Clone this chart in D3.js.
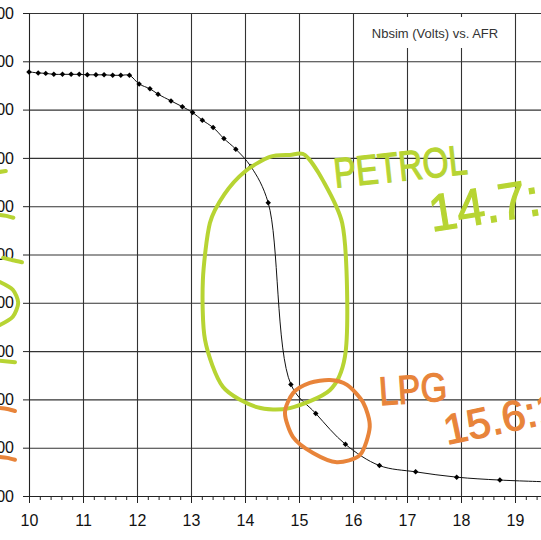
<!DOCTYPE html>
<html>
<head>
  <meta charset="utf-8">
  <style>
    body { margin: 0; background: #fff; }
    svg { display: block; font-family: "Liberation Sans", Arial, sans-serif; }
    .grid line { stroke: #333; stroke-width: 1.1; }
    .grid path { display: none; }
    .axis path, .axis line { stroke: #222; }
    .axis text { fill: #111; font-size: 16px; }
    .curve { fill: none; stroke: #111; stroke-width: 1; }
    .dot { fill: #000; }
    .scribble { fill: none; stroke-width: 4; stroke-linecap: round; stroke-linejoin: round; }
    .hand { font-family: "Liberation Sans Narrow", "Liberation Sans", sans-serif; stroke-width: 1.2; }
  </style>
</head>
<body>
  <svg width="541" height="540"></svg>
  <script src="https://cdn.jsdelivr.net/npm/d3@7"></script>
  <script>
    // AFR vs Nbsim voltage
    var afr = [10.0, 10.17, 10.31, 10.46, 10.62, 10.78, 10.93, 11.08, 11.24, 11.39, 11.55, 11.70, 11.86,
               12.04, 12.24, 12.39, 12.63, 12.84, 13.03, 13.21, 13.41, 13.61, 13.83, 14.11, 14.43,
               14.85, 15.31, 15.86, 16.49, 17.16, 17.92, 18.72, 19.7];
    var volts = [0.878, 0.876, 0.875, 0.873, 0.873, 0.873, 0.873, 0.872, 0.872, 0.872, 0.871, 0.871, 0.871,
                 0.853, 0.843, 0.832, 0.818, 0.806, 0.794, 0.778, 0.763, 0.740, 0.718, 0.682, 0.607,
                 0.231, 0.171, 0.107, 0.063, 0.050, 0.039, 0.033, 0.029];
    var xTicks = [10, 11, 12, 13, 14, 15, 16, 17, 18, 19, 20];
    var yTicks = [0, 0.1, 0.2, 0.3, 0.4, 0.5, 0.6, 0.7, 0.8, 0.9, 1.0];
    var title = "Nbsim (Volts)  vs. AFR";

    // hand drawn marks, in chart units [afr, volts]
    var petrolLoop = [[14.83, 0.706], [15.11, 0.706], [15.44, 0.654], [15.80, 0.565], [15.89, 0.426],
                      [15.85, 0.288], [15.57, 0.219], [14.83, 0.182], [14.22, 0.184], [13.59, 0.226],
                      [13.26, 0.323], [13.22, 0.447], [13.35, 0.565], [13.62, 0.625], [14.00, 0.672],
                      [14.46, 0.702]];
    var lpgLoop = [[15.20, 0.234], [15.57, 0.240], [15.89, 0.230], [16.19, 0.193], [16.31, 0.143],
                   [16.13, 0.085], [15.70, 0.070], [15.26, 0.089], [14.89, 0.122], [14.74, 0.172],
                   [14.89, 0.213]];
    var greenTicks = [
      [[9.46, 0.671], [9.57, 0.673]],
      [[9.46, 0.582], [9.58, 0.580], [9.71, 0.576]],
      [[9.52, 0.493], [9.70, 0.488], [9.87, 0.484]],
      [[9.46, 0.443], [9.70, 0.427], [9.80, 0.400], [9.70, 0.371], [9.46, 0.354]],
      [[9.46, 0.280], [9.74, 0.277]]
    ];
    var orangeTicks = [
      [[9.46, 0.182], [9.60, 0.180], [9.74, 0.176]],
      [[9.46, 0.081], [9.60, 0.079], [9.74, 0.075]]
    ];
    var notes = [
      {text: "PETROL", x: 15.67, y: 0.638, size: 42, len: 134, rot: -6, color: "#b7d433"},
      {text: "14.7:1", x: 17.46, y: 0.547, size: 52, len: 140, rot: -9, color: "#b7d433"},
      {text: "LPG", x: 16.50, y: 0.188, size: 40, len: 68, rot: -4, color: "#e8843a"},
      {text: "15.6:1", x: 17.74, y: 0.106, size: 42, len: 118, rot: -12, color: "#e8843a"}
    ];

    var svg = d3.select("svg"),
        margin = {top: 13, left: 29},
        height = 483;

    var x = d3.scaleLinear().domain([10, 20]).range([0, 540]),
        y = d3.scaleLinear().domain([0, 1]).range([height, 0]);

    var g = svg.append("g")
        .attr("transform", "translate(" + margin.left + "," + margin.top + ")");

    // grid
    g.append("g")
        .attr("class", "grid")
        .attr("transform", "translate(0," + height + ")")
        .call(d3.axisBottom(x).tickValues(xTicks).tickSize(-height).tickFormat(""));
    g.append("g")
        .attr("class", "grid")
        .call(d3.axisLeft(y).tickValues(yTicks).tickSize(-540).tickFormat(""));

    // title box
    g.append("rect")
        .attr("x", x(16.1)).attr("y", 4)
        .attr("width", x(18.9) - x(16.1)).attr("height", 31)
        .attr("fill", "#fff");
    g.append("text")
        .attr("x", (x(16.1) + x(18.9)) / 2 + 1).attr("y", 25)
        .attr("text-anchor", "middle")
        .attr("font-size", 13)
        .attr("fill", "#333")
        .text(title);

    // axes
    var minor = d3.range(100, 201, 2).map(function(d) { return d / 10; });
    g.append("g")
        .attr("class", "axis")
        .attr("transform", "translate(0," + height + ")")
        .call(d3.axisBottom(x).tickValues(minor).tickSize(4).tickFormat(""));
    g.append("g")
        .attr("class", "axis")
        .attr("transform", "translate(0," + height + ")")
        .call(d3.axisBottom(x).tickValues(xTicks).tickSize(7).tickPadding(12).tickFormat(d3.format("d")));
    g.append("g")
        .attr("class", "axis")
        .call(d3.axisLeft(y).tickValues(yTicks).tickSize(6).tickPadding(9).tickFormat(d3.format(".3f")));

    // data
    var pts = afr.map(function(a, i) { return [a, volts[i]]; });
    var line = d3.line()
        .x(function(d) { return x(d[0]); })
        .y(function(d) { return y(d[1]); })
        .curve(d3.curveCatmullRom.alpha(0.5));

    g.append("path")
        .datum(pts)
        .attr("class", "curve")
        .attr("d", line);

    g.selectAll(".dot")
        .data(pts.slice(0, pts.length - 1))
        .enter().append("path")
        .attr("class", "dot")
        .attr("d", d3.symbol().type(d3.symbolSquare).size(15))
        .attr("transform", function(d) { return "translate(" + x(d[0]) + "," + y(d[1]) + ") rotate(45)"; });

    // scribbles
    var loop = d3.line()
        .x(function(d) { return x(d[0]); })
        .y(function(d) { return y(d[1]); })
        .curve(d3.curveCardinalClosed.tension(0.2));
    var open = d3.line()
        .x(function(d) { return x(d[0]); })
        .y(function(d) { return y(d[1]); })
        .curve(d3.curveCardinal.tension(0.2));

    g.append("path").datum(petrolLoop).attr("class", "scribble").attr("stroke", "#b7d433").attr("d", loop);
    g.append("path").datum(lpgLoop).attr("class", "scribble").attr("stroke", "#e8843a").attr("d", loop);
    g.selectAll(".gtick").data(greenTicks).enter().append("path")
        .attr("class", "scribble").attr("stroke", "#b7d433").attr("stroke-width", 3).attr("d", open);
    g.selectAll(".otick").data(orangeTicks).enter().append("path")
        .attr("class", "scribble").attr("stroke", "#e8843a").attr("stroke-width", 3).attr("d", open);

    g.selectAll(".hand").data(notes).enter().append("text")
        .attr("class", "hand")
        .attr("transform", function(d) { return "translate(" + x(d.x) + "," + y(d.y) + ") rotate(" + d.rot + ")"; })
        .attr("font-size", function(d) { return d.size; })
        .attr("textLength", function(d) { return d.len; })
        .attr("lengthAdjust", "spacingAndGlyphs")
        .attr("fill", function(d) { return d.color; })
        .attr("stroke", function(d) { return d.color; })
        .text(function(d) { return d.text; });
  </script>
</body>
</html>
